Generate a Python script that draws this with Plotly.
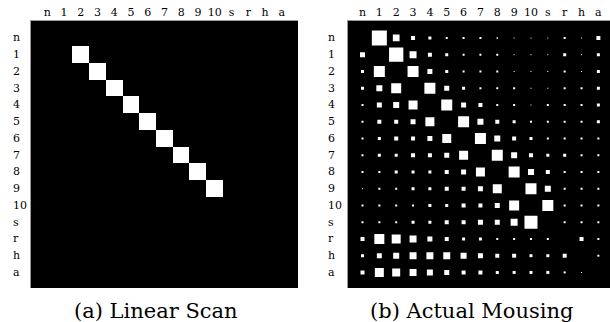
import math
import plotly.graph_objects as go

# ---- data ----
labels = ["n", "1", "2", "3", "4", "5", "6", "7", "8", "9", "10", "s", "r", "h", "a"]

# (a) Linear scan: each row "from" label jumps to exactly one "to" label
scan_from = ["1", "2", "3", "4", "5", "6", "7", "8", "9"]
scan_to = ["2", "3", "4", "5", "6", "7", "8", "9", "10"]

# (b) Actual mousing: transition weights (row = from, column = to)
mousing_n = [0, 225, 45, 16, 9, 4, 4, 4, 2, 1, 1, 1, 4, 1, 16]
mousing_1 = [25, 0, 204, 49, 16, 9, 4, 4, 4, 1, 1, 1, 9, 1, 9]
mousing_2 = [9, 121, 0, 121, 25, 9, 4, 4, 4, 1, 1, 1, 4, 1, 9]
mousing_3 = [9, 36, 100, 0, 121, 25, 9, 4, 4, 4, 1, 1, 4, 4, 9]
mousing_4 = [4, 25, 36, 81, 0, 121, 25, 16, 4, 4, 1, 4, 4, 4, 9]
mousing_5 = [4, 16, 16, 25, 81, 0, 121, 36, 16, 9, 4, 4, 4, 4, 9]
mousing_6 = [4, 9, 16, 16, 25, 81, 0, 121, 36, 16, 9, 4, 4, 4, 4]
mousing_7 = [4, 9, 9, 16, 16, 25, 81, 0, 121, 36, 16, 9, 9, 4, 4]
mousing_8 = [4, 4, 9, 9, 9, 16, 25, 81, 0, 121, 36, 16, 4, 4, 4]
mousing_9 = [1, 4, 4, 9, 9, 16, 16, 25, 81, 0, 121, 36, 4, 4, 4]
mousing_10 = [4, 4, 4, 4, 9, 9, 16, 16, 25, 100, 0, 121, 4, 4, 4]
mousing_s = [4, 4, 4, 9, 9, 16, 16, 25, 25, 49, 169, 0, 4, 4, 4]
mousing_r = [16, 100, 81, 49, 25, 16, 9, 9, 4, 4, 4, 4, 0, 16, 4]
mousing_h = [9, 25, 36, 49, 49, 49, 36, 25, 16, 16, 9, 9, 16, 0, 4]
mousing_a = [16, 81, 64, 49, 36, 25, 16, 16, 9, 9, 9, 9, 4, 1, 0]

captions = ["(a) Linear Scan", "(b) Actual Mousing"]

mousing = [mousing_n, mousing_1, mousing_2, mousing_3, mousing_4, mousing_5,
           mousing_6, mousing_7, mousing_8, mousing_9, mousing_10, mousing_s,
           mousing_r, mousing_h, mousing_a]

# ---- layout geometry (pixels) ----
W, H = 610, 322
SERIF = "DejaVu Serif"
idx = list(range(len(labels)))

fig = go.Figure()

# (a) heatmap
z = [[0] * len(labels) for _ in labels]
for f, t in zip(scan_from, scan_to):
    z[labels.index(f)][labels.index(t)] = 1
fig.add_trace(go.Heatmap(
    z=z, x=idx, y=idx, colorscale=[[0, "black"], [1, "white"]],
    zmin=0, zmax=1, showscale=False, xaxis="x", yaxis="y", hoverinfo="skip"))

# (b) Hinton-style squares
xs, ys, sizes = [], [], []
vmax = max(max(r) for r in mousing)
MAX_SIDE = 15
for i, row in enumerate(mousing):
    for j, v in enumerate(row):
        if v > 0:
            xs.append(j)
            ys.append(i)
            sizes.append(MAX_SIDE * math.sqrt(v / vmax))
fig.add_trace(go.Scatter(
    x=xs, y=ys, mode="markers", xaxis="x2", yaxis="y2",
    marker=dict(symbol="square", size=sizes, color="white", opacity=1,
                line=dict(width=0)),
    hoverinfo="skip"))

ytop, ybot = 21, 288
yrange = [14.93, -1.01]

def xaxis(dom, rng):
    return dict(domain=dom, range=rng, side="top", tickmode="array",
                tickvals=idx, ticktext=labels, ticks="", ticklen=0,
                showgrid=False, zeroline=False, showline=True,
                linecolor="#9a9a9a", linewidth=1,
                tickfont=dict(family=SERIF, size=11, color="black"))

def yaxis(anchor):
    return dict(domain=[1 - ybot / H, 1 - ytop / H], range=yrange, anchor=anchor,
                showticklabels=False, ticks="", showgrid=False, zeroline=False,
                showline=True, linecolor="#9a9a9a", linewidth=1)

fig.update_layout(
    width=W, height=H, margin=dict(l=0, r=0, t=0, b=0),
    paper_bgcolor="white", plot_bgcolor="black", showlegend=False,
    xaxis=xaxis([31 / W, 298 / W], [-0.97, 14.97]) | dict(anchor="y"),
    yaxis=yaxis("x"),
    xaxis2=xaxis([347.5 / W, 1.0], [-0.89, 14.69]) | dict(anchor="y2"),
    yaxis2=yaxis("x2"),
)

# row labels (left aligned)
annotations = []
for lx, yref in [(10.5, "y"), (326, "y2")]:
    for i, lab in enumerate(labels):
        annotations.append(dict(
            x=lx / W, xref="paper", y=i, yref=yref, text=lab, showarrow=False,
            xanchor="left", yanchor="middle",
            font=dict(family=SERIF, size=11, color="black")))
# captions
for cx, cap in zip([156, 471.7], captions):
    annotations.append(dict(
        x=cx / W, xref="paper", y=1 - 311 / H, yref="paper", text=cap,
        showarrow=False, xanchor="center", yanchor="middle",
        font=dict(family=SERIF, size=21, color="black")))
fig.update_layout(annotations=annotations)

fig.write_html("out.html")
